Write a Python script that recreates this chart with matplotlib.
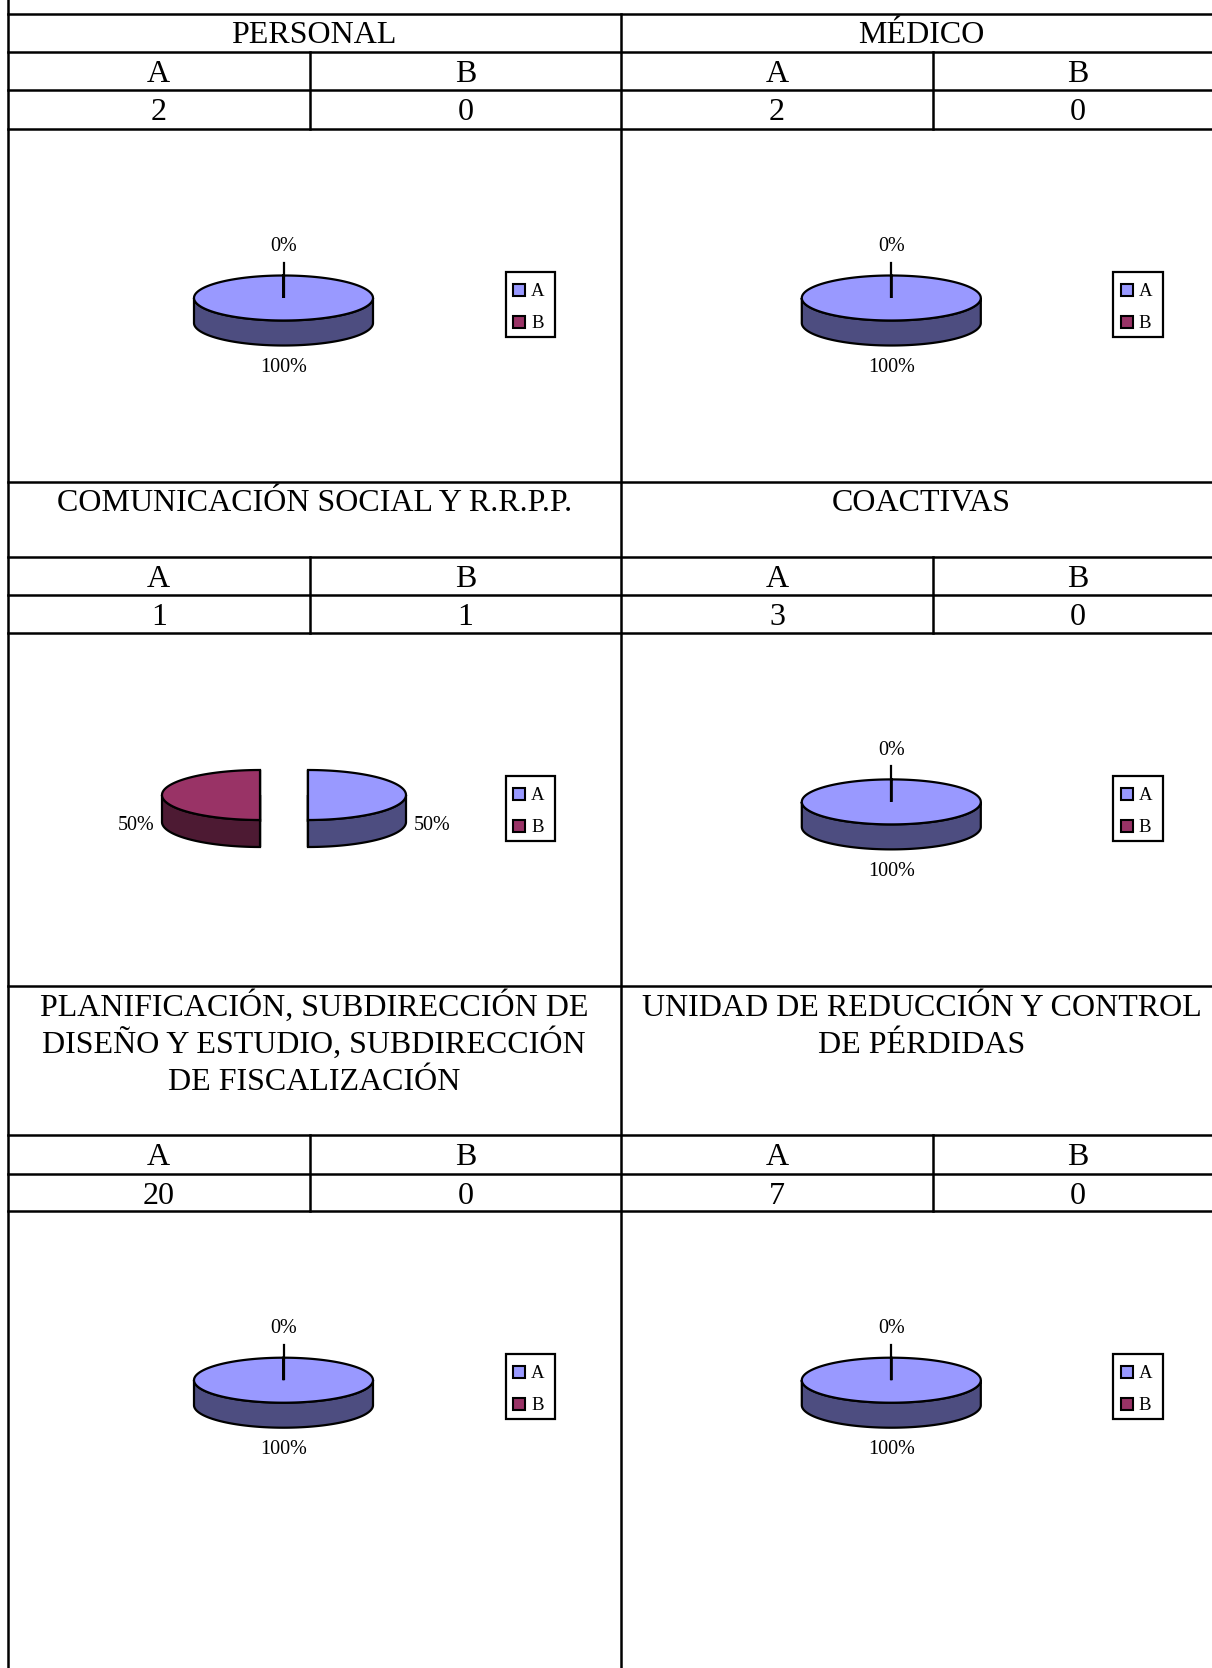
import numpy as np
import matplotlib.pyplot as plt
from matplotlib.patches import Polygon, Rectangle

plt.rcParams['font.family'] = ['Liberation Serif', 'DejaVu Serif']

# data
sections = ["PERSONAL", "MÉDICO",
            "COMUNICACIÓN SOCIAL Y R.R.P.P.", "COACTIVAS",
            "PLANIFICACIÓN, SUBDIRECCIÓN DE\nDISEÑO Y ESTUDIO, SUBDIRECCIÓN\nDE FISCALIZACIÓN",
            "UNIDAD DE REDUCCIÓN Y CONTROL\nDE PÉRDIDAS"]
categories = ["A", "B"]
count_a = [2, 2, 1, 3, 20, 7]
count_b = [0, 0, 1, 0, 0, 0]

top_colors = ["#9999FF", "#993366"]
side_colors = ["#4D4D80", "#4D1A33"]

# layout in pixels
W, H = 1212, 1668
col_left = [7.5, 621.0]
col_sub = [310.0, 933.0]
col_right = [621.0, 1222.0]
# title top, A/B row top, value row top, chart top
block_tops = [(13.8, 52.1, 90.4, 128.8),
              (482.3, 557.3, 595.0, 632.7),
              (986.4, 1135.4, 1173.7, 1211.0)]
pie_cx = [283.5, 891.3]
legend_x = [505.7, 1113.3]
LW = 1.8
EDGE = 1.6


def draw_pie3d(ax, cx, cy, vals, a, b, depth, explode):
    total = float(sum(vals))
    fracs = [v / total for v in vals]
    start = 0.0
    for k, f in enumerate(fracs):
        t0, t1 = start, start + f * 2 * np.pi
        start = t1
        mid = (t0 + t1) / 2
        ox = cx + explode * np.sin(mid)
        oy = cy - explode * (b / a) * np.cos(mid)
        # radial faces
        for t in (t0, t1):
            rx, ry = ox + a * np.sin(t), oy - b * np.cos(t)
            quad = [(ox, oy), (rx, ry), (rx, ry + depth), (ox, oy + depth)]
            ax.add_patch(Polygon(quad, closed=True, fc=side_colors[k], ec="black",
                                 lw=EDGE, zorder=2))
        # front wall
        lo, hi = max(t0, np.pi / 2), min(t1, 3 * np.pi / 2)
        if hi > lo:
            ts = np.linspace(lo, hi, 120)
            xs = ox + a * np.sin(ts)
            ys = oy - b * np.cos(ts)
            pts = list(zip(xs, ys)) + list(zip(xs[::-1], ys[::-1] + depth))
            ax.add_patch(Polygon(pts, closed=True, fc=side_colors[k], ec="black",
                                 lw=EDGE, zorder=3))
        # top face
        ts = np.linspace(t0, t1, max(2, int(240 * f) + 2))
        pts = [(ox, oy)] + list(zip(ox + a * np.sin(ts), oy - b * np.cos(ts)))
        ax.add_patch(Polygon(pts, closed=True, fc=top_colors[k], ec="black",
                             lw=EDGE, zorder=4))
        # percentage label
        label = f"{round(100 * f)}%"
        c, s = np.cos(mid), np.sin(mid)
        if c > 0.7:
            lx, ly = ox, oy - b - 31
            if vals[k] == 0:
                ax.plot([ox, ox], [oy - b, oy - b - 13], color="black", lw=EDGE, zorder=5)
        elif c < -0.7:
            lx, ly = ox, oy + b + depth + 20
        else:
            lx, ly = ox + s * (a + 26), oy + 28
        ax.text(lx, ly + 6.7, label, ha="center", va="baseline", fontsize=14.5, zorder=6)


def draw_legend(ax, x0, top):
    ax.add_patch(Rectangle((x0, top + 143), 49.3, 65, fc="white", ec="black",
                           lw=1.6, zorder=3))
    for k, name in enumerate(categories):
        yc = top + 161.2 + k * 31.7
        ax.add_patch(Rectangle((x0 + 7.3, yc - 6), 12, 12, fc=top_colors[k],
                               ec="black", lw=1.5, zorder=4))
        ax.text(x0 + 25.5, yc + 6, name, ha="left", va="baseline", fontsize=13.5, zorder=4)


fig = plt.figure(figsize=(W / 100, H / 100), dpi=100)
ax = fig.add_axes([0, 0, 1, 1])
ax.set_xlim(0, W)
ax.set_ylim(H, 0)
ax.axis("off")

# table grid
hline_ys = [y for blk in block_tops for y in blk]
for y in hline_ys:
    ax.plot([col_left[0], W + 5], [y, y], color="black", lw=LW, solid_capstyle="projecting")
ax.plot([col_left[0], col_left[0]], [0, H], color="black", lw=LW)
ax.plot([col_left[1], col_left[1]], [block_tops[0][0], H], color="black", lw=LW)
for blk in block_tops:
    for c in range(2):
        ax.plot([col_sub[c], col_sub[c]], [blk[1], blk[3]], color="black", lw=LW)

for i, title in enumerate(sections):
    row, col = i // 2, i % 2
    t_top, ab_top, v_top, c_top = block_tops[row]
    xc = (col_left[col] + col_right[col]) / 2
    for j, line in enumerate(title.split("\n")):
        ax.text(xc, t_top + 29.1 + j * 37.3, line, ha="center", va="baseline", fontsize=23)
    xa = (col_left[col] + col_sub[col]) / 2
    xb = (col_sub[col] + col_right[col]) / 2
    ax.text(xa, ab_top + 29.7, categories[0], ha="center", va="baseline", fontsize=23)
    ax.text(xb, ab_top + 29.7, categories[1], ha="center", va="baseline", fontsize=23)
    ax.text(xa, v_top + 29.8, str(count_a[i]), ha="center", va="baseline", fontsize=23)
    ax.text(xb, v_top + 29.8, str(count_b[i]), ha="center", va="baseline", fontsize=23)

    vals = [count_a[i], count_b[i]]
    if min(vals) > 0:
        draw_pie3d(ax, pie_cx[col] + 0.5, c_top + 162.3, vals, 98, 25, 27, 24)
    else:
        draw_pie3d(ax, pie_cx[col], c_top + 169.2, vals, 89.5, 22.5, 25, 0)
    draw_legend(ax, legend_x[col], c_top)

fig.savefig("out.png", dpi=100)
